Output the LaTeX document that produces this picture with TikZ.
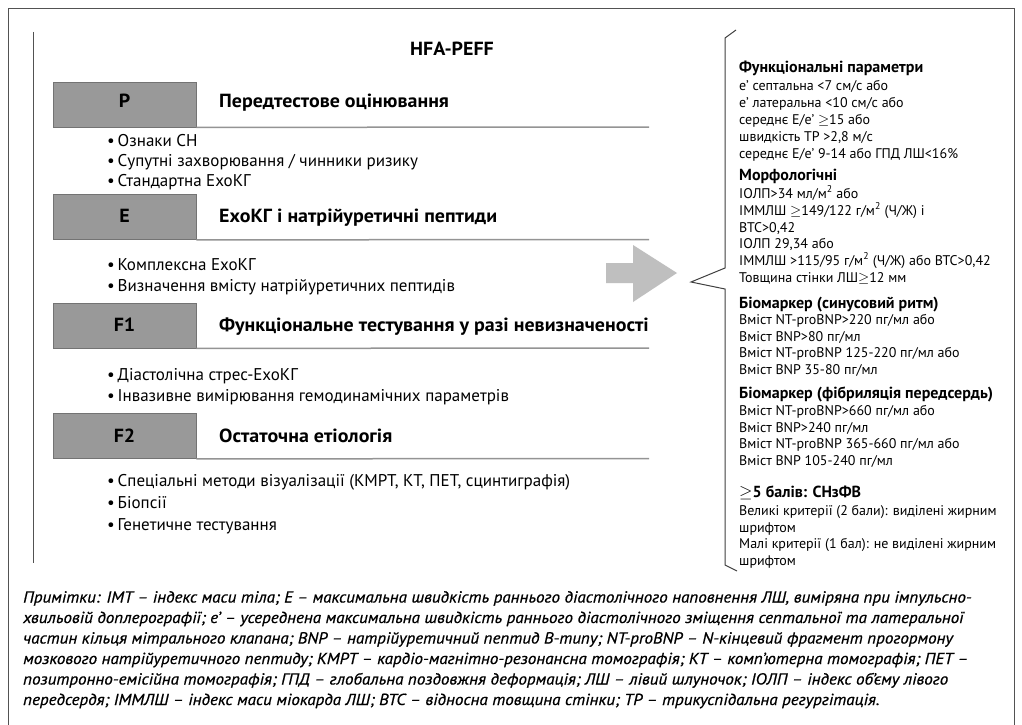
\documentclass[tikz,border=0pt]{standalone}
\usepackage{fontspec}
\setmainfont{PT Sans}
\newfontfamily\notefont{PT Sans}[FakeStretch=1.065, FakeBold=0.6]
\newfontfamily\headfont{PT Sans}[FakeStretch=1.05]
\newcommand\gee{\ensuremath{\geq}}
\newcommand\sq{\textsuperscript{2}}
% one line of the criteria column
\newcommand\rl[3]{\node[rtxt] (#1) at (739,#2) {#3};}
\newcommand\rh[3]{\node[rhead] (#1) at (739,#2) {#3};}
% one bullet line of a stage
\newcommand\bl[3]{\node[bul] (#1) at (107,#2) {•\,#3};}
% one line of the footnote
\newcommand\nl[3]{\node[note] (#1) at (23,#2) {#3};}

\begin{document}
\begin{tikzpicture}[x=1pt,y=-1pt,
  frame/.style={draw=black!68, line width=0.9pt},
  stagebox/.style={draw=black!55, fill=black!40, line width=0.8pt,
    minimum width=143pt, minimum height=45pt, inner sep=0pt},
  stagelbl/.style={font=\fontsize{19}{20}\headfont\bfseries, inner sep=0pt},
  stagehead/.style={font=\fontsize{19}{20}\headfont\bfseries, anchor=base west, inner sep=0pt},
  rule/.style={draw=black!42, line width=1.5pt},
  bul/.style={font=\fontsize{17}{20}\selectfont, anchor=base west, inner sep=0pt},
  rtxt/.style={font=\fontsize{14}{16}\selectfont, anchor=base west, inner sep=0pt},
  rhead/.style={font=\fontsize{16}{16}\selectfont\bfseries, anchor=base west, inner sep=0pt},
  note/.style={font=\fontsize{16}{18}\notefont\itshape, anchor=base west, inner sep=0pt},
  brace/.style={draw=black!75, line width=1pt},
  bigarrow/.style={fill=black!25}
]
\useasboundingbox (0,0) rectangle (1022,725);
\fill[white] (0,0) rectangle (1022,725);

% outer frame (open at the foot) and left margin rule
\draw[frame] (8,726) -- (8,8) -- (1014,8) -- (1014,726);
\draw[frame] (33,32) -- (33,563);

\node[font=\fontsize{19}{20}\headfont\bfseries] (title) at (452,49) {HFA-PEFF};

% stage P
\node[stagebox] (P) at (124.5,104.5) {};
\node[stagelbl] (Pl) at (124.5,101) {P};
\node[stagehead] (Ph) at (219,107.5) {Передтестове оцінювання};
\coordinate (Pend) at (649,127);
\draw[rule] (P.south east) -- (Pend);
\bl{P1}{146}{Ознаки СН}
\bl{P2}{166}{Супутні захворювання / чинники ризику}
\bl{P3}{186}{Стандартна ЕхоКГ}

% stage E
\node[stagebox] (E) at (124.5,217) {};
\node[stagelbl] (El) at (124.5,216) {E};
\node[stagehead] (Eh) at (219,222.5) {ЕхоКГ і натрійуретичні пептиди};
\coordinate (Eend) at (649,239.5);
\draw[rule] (E.south east) -- (Eend);
\bl{E1}{270}{Комплексна ЕхоКГ}
\bl{E2}{291}{Визначення вмісту натрійуретичних пептидів}

% stage F1
\node[stagebox] (F1) at (124.5,325.5) {};
\node[stagelbl] (F1l) at (124.5,325) {F1};
\node[stagehead] (F1h) at (219,331.5) {Функціональне тестування у разі невизначеності};
\coordinate (F1end) at (649,348);
\draw[rule] (F1.south east) -- (F1end);
\bl{F11}{380}{Діастолічна стрес-ЕхоКГ}
\bl{F12}{401}{Інвазивне вимірювання гемодинамічних параметрів}

% stage F2
\node[stagebox] (F2) at (124.5,436) {};
\node[stagelbl] (F2l) at (124.5,436) {F2};
\node[stagehead] (F2h) at (219,442.5) {Остаточна етіологія};
\coordinate (F2end) at (649,458.5);
\draw[rule] (F2.south east) -- (F2end);
\bl{F21}{486}{Спеціальні методи візуалізації (КМРТ, КТ, ПЕТ, сцинтиграфія)}
\bl{F22}{508}{Біопсії}
\bl{F23}{530}{Генетичне тестування}

% block arrow towards the criteria
\fill[bigarrow] (606,263) -- (633,263) -- (633,245) -- (677,273)
  -- (633,302) -- (633,283) -- (606,283) -- cycle;

% bracket of the criteria column
\draw[brace] (736,30) -- (725,38) -- (725,268) -- (691,282) -- (725,289)
  -- (725,565) -- (737,571);

% criteria column
\rh{fh}{73}{Функціональні параметри}
\rl{f1}{90}{е’ септальна <7 см/с або}
\rl{f2}{107}{е’ латеральна <10 см/с або}
\rl{f3}{124}{середнє E/e’ \gee15 або}
\rl{f4}{141}{швидкість ТР >2,8 м/с}
\rl{f5}{158}{середнє E/e’ 9-14 або ГПД ЛШ<16\%}

\rh{mh}{180}{Морфологічні}
\rl{m1}{198}{ІОЛП>34 мл/м\sq\ або}
\rl{m2}{215}{ІММЛШ \gee149/122 г/м\sq\ (Ч/Ж) і}
\rl{m3}{232}{ВТС>0,42}
\rl{m4}{248}{ІОЛП 29,34 або}
\rl{m5}{265}{ІММЛШ >115/95 г/м\sq\ (Ч/Ж) або ВТС>0,42}
\rl{m6}{282}{Товщина стінки ЛШ\gee12 мм}

\rh{sh}{308}{Біомаркер (синусовий ритм)}
\rl{s1}{324}{Вміст NT-proBNP>220 пг/мл або}
\rl{s2}{341}{Вміст BNP>80 пг/мл}
\rl{s3}{357}{Вміст NT-proBNP 125-220 пг/мл або}
\rl{s4}{374}{Вміст BNP 35-80 пг/мл}

\rh{ah}{398}{Біомаркер (фібриляція передсердь)}
\rl{a1}{415}{Вміст NT-proBNP>660 пг/мл або}
\rl{a2}{432}{Вміст BNP>240 пг/мл}
\rl{a3}{448}{Вміст NT-proBNP 365-660 пг/мл або}
\rl{a4}{465}{Вміст BNP 105-240 пг/мл}

\rh{ch}{497}{\gee5 балів: СНзФВ}
\rl{c1}{515}{Великі критерії (2 бали): виділені жирним}
\rl{c2}{532}{шрифтом}
\rl{c3}{548}{Малі критерії (1 бал): не виділені жирним}
\rl{c4}{565}{шрифтом}

% footnote
\nl{n1}{602.5}{Примітки: ІМТ – індекс маси тіла; Е – максимальна швидкість раннього діастолічного наповнення ЛШ, виміряна при імпульсно-}
\nl{n2}{623}{хвильовій доплерографії; е’ – усереднена максимальна швидкість раннього діастолічного зміщення септальної та латеральної}
\nl{n3}{643.5}{частин кільця мітрального клапана; BNP – натрійуретичний пептид В-типу; NT-proBNP – N-кінцевий фрагмент прогормону}
\nl{n4}{664}{мозкового натрійуретичного пептиду; КМРТ – кардіо-магнітно-резонансна томографія; КТ – комп’ютерна томографія; ПЕТ –}
\nl{n5}{684.5}{позитронно-емісійна томографія; ГПД – глобальна поздовжня деформація; ЛШ – лівий шлуночок; ІОЛП – індекс об’єму лівого}
\nl{n6}{705}{передсердя; ІММЛШ – індекс маси міокарда ЛШ; ВТС – відносна товщина стінки; ТР – трикуспідальна регургітація.}
\end{tikzpicture}
\end{document}
